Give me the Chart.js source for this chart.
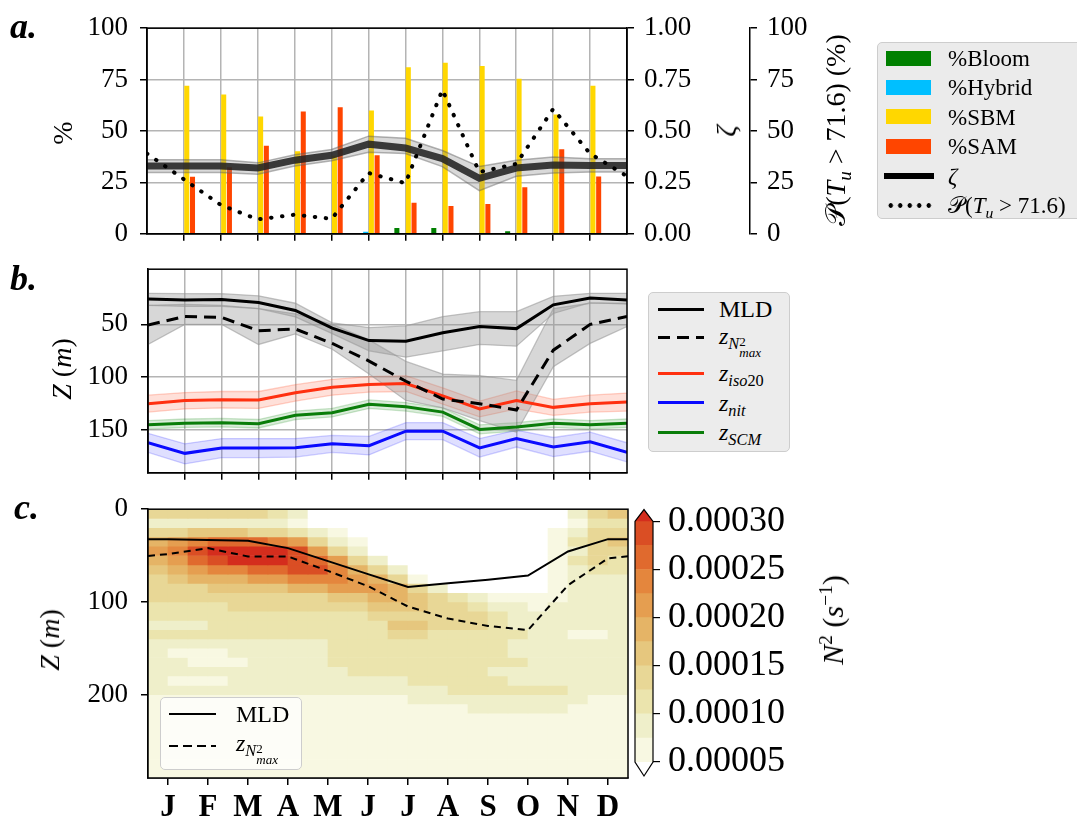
<!DOCTYPE html>
<html lang="en">
<head>
<meta charset="UTF-8">
<title>Seasonal cycle of regimes, depths and N2</title>
<script src="https://cdn.jsdelivr.net/npm/chart.js"></script>
<style>
  body { margin: 0; background: #fff; }
  #fig { position: relative; width: 1077px; height: 825px; overflow: hidden;
         font-family: 'Liberation Serif', 'DejaVu Serif', 'DejaVu Sans', serif; color: #000; }
  canvas { position: absolute; }
  .lbl { position: absolute; white-space: nowrap; line-height: 1; }
  .plab { font-weight: bold; font-style: italic; font-size: 36px; }
  .rot { transform: translate(-50%, -50%) rotate(-90deg); font-size: 28px; }
  .leg { position: absolute; border: 1.5px solid #cdcdcd; border-radius: 5px; }
  .sw { position: absolute; }
  .txt { position: absolute; white-space: nowrap; line-height: 1; transform: translateY(-50%); }
  .sb { font-size: 0.68em; position: relative; top: 0.3em; }
  .stk { display: inline-flex; flex-direction: column; font-size: 0.8em; line-height: 0.8; vertical-align: 0.2em; }
</style>
</head>
<body>
<div id="fig">
  <canvas id="chartA" width="877" height="262" style="left:0;top:0"></canvas>
  <canvas id="chartB" width="877" height="262" style="left:0;top:240px"></canvas>
  <canvas id="chartC" width="1077" height="345" style="left:0;top:480px"></canvas>
  <canvas id="chartCb" width="477" height="345" style="left:600px;top:480px"></canvas>

  <div class="lbl plab" style="left:10px;top:8px">a.</div>
  <div class="lbl plab" style="left:10px;top:260px">b.</div>
  <div class="lbl plab" style="left:14px;top:489px">c.</div>

  <div class="lbl rot" style="left:63px;top:133px">%</div>
  <div class="lbl rot" style="left:726px;top:131px"><i>ζ</i></div>
  <div class="lbl rot" style="left:836px;top:130px">𝒫(<i>T</i><span class="sb"><i>u</i></span> &gt; 71.6) (%)</div>
  <div class="lbl rot" style="left:62px;top:369px"><i>Z</i> (<i>m</i>)</div>
  <div class="lbl rot" style="left:50px;top:640px"><i>Z</i> (<i>m</i>)</div>
  <div class="lbl rot" style="left:832px;top:620px;font-size:30px"><i>N</i><sup style="font-size:0.65em">2</sup> (<i>s</i><sup style="font-size:0.65em">−1</sup>)</div>

  <!-- legend a -->
  <div class="leg" style="left:877px;top:42px;width:206px;height:175px;background:#ebebeb;font-size:23px">
    <div class="sw" style="left:8px;top:8px;width:45px;height:15px;background:#008000"></div>
    <div class="txt" style="left:70px;top:15px">%Bloom</div>
    <div class="sw" style="left:8px;top:37px;width:45px;height:15px;background:#00bfff"></div>
    <div class="txt" style="left:70px;top:44px">%Hybrid</div>
    <div class="sw" style="left:8px;top:66px;width:45px;height:15px;background:#ffd700"></div>
    <div class="txt" style="left:70px;top:74px">%SBM</div>
    <div class="sw" style="left:8px;top:96px;width:45px;height:15px;background:#ff4500"></div>
    <div class="txt" style="left:70px;top:103px">%SAM</div>
    <div class="sw" style="left:6px;top:130px;width:50px;height:6px;background:#000"></div>
    <div class="txt" style="left:70px;top:133px"><i>ζ</i></div>
    <div class="sw" style="left:8px;top:160px;width:48px;height:5px;background:radial-gradient(circle, #000 2px, transparent 2.6px) 0 0/9.5px 5px repeat-x"></div>
    <div class="txt" style="left:70px;top:162px">𝒫(<i>T</i><span class="sb"><i>u</i></span> &gt; 71.6)</div>
  </div>

  <!-- legend b -->
  <div class="leg" style="left:648px;top:292px;width:140px;height:158px;background:#ececec;font-size:24px">
    <div class="sw" style="left:9px;top:15px;width:46px;height:3px;background:#000"></div>
    <div class="txt" style="left:70px;top:16px">MLD</div>
    <div class="sw" style="left:9px;top:43px;width:46px;height:3px;background:repeating-linear-gradient(90deg,#000 0 12px,transparent 12px 19px)"></div>
    <div class="txt" style="left:70px;top:46px"><i>z</i><span class="sb"><i>N</i><span class="stk"><span>2</span><i>max</i></span></span></div>
    <div class="sw" style="left:9px;top:79px;width:46px;height:3px;background:#ff3010"></div>
    <div class="txt" style="left:70px;top:80px"><i>z</i><span class="sb"><i>iso</i>20</span></div>
    <div class="sw" style="left:9px;top:108px;width:46px;height:3px;background:#0a0aff"></div>
    <div class="txt" style="left:70px;top:110px"><i>z</i><span class="sb"><i>nit</i></span></div>
    <div class="sw" style="left:9px;top:138px;width:46px;height:3px;background:#0a7d0a"></div>
    <div class="txt" style="left:70px;top:139px"><i>z</i><span class="sb"><i>SCM</i></span></div>
  </div>

  <!-- legend c -->
  <div class="leg" style="left:160px;top:697px;width:140px;height:71px;background:rgba(255,255,255,0.75);font-size:24px">
    <div class="sw" style="left:8px;top:15px;width:47px;height:2px;background:#000"></div>
    <div class="txt" style="left:75px;top:16px">MLD</div>
    <div class="sw" style="left:8px;top:47px;width:47px;height:2px;background:repeating-linear-gradient(90deg,#000 0 9px,transparent 9px 14px)"></div>
    <div class="txt" style="left:75px;top:48px"><i>z</i><span class="sb"><i>N</i><span class="stk"><span>2</span><i>max</i></span></span></div>
  </div>
</div>

<script>
// ---------- panel a: regime percentages, zeta, P(Tu > 71.6) ----------
const monthPos = [1, 2, 3, 4, 5, 6, 7, 8, 9, 10, 11, 12];
const edgePos = [0, 1, 2, 3, 4, 5, 6, 7, 8, 9, 10, 11, 12, 13];
const pctBloom  = [0, 0, 0, 0, 0, 0, 2.8, 2.8, 0, 1.2, 0, 0];
const pctHybrid = [0, 0, 0, 0, 0, 1.0, 0, 0, 0, 0, 0, 0];
const pctSBM    = [72, 67.8, 57, 40.2, 38, 60, 81, 83.2, 81.6, 75.4, 58, 72];
const pctSAM    = [27.7, 32.4, 42.8, 59.5, 61.5, 38.2, 15.1, 13.5, 14.5, 22.7, 41.1, 27.9];
const zeta   = [0.33, 0.33, 0.33, 0.32, 0.358, 0.382, 0.436, 0.417, 0.366, 0.27, 0.32, 0.335, 0.332, 0.332];
const zetaHi = [0.36, 0.36, 0.36, 0.345, 0.385, 0.41, 0.475, 0.465, 0.405, 0.327, 0.358, 0.374, 0.365, 0.365];
const zetaLo = [0.298, 0.298, 0.298, 0.29, 0.33, 0.355, 0.397, 0.39, 0.327, 0.21, 0.28, 0.296, 0.30, 0.30];
const pTu    = [39, 26.5, 14, 7, 9.3, 7.3, 29.6, 24.6, 70, 30, 34, 60.7, 39, 28];
const pctTicks = [0, 25, 50, 75, 100];
const zetaTicks = [0, 0.25, 0.5, 0.75, 1];

// ---------- panel b: depths (m) ----------
const mld     = [25.9, 27, 26.5, 29.4, 36.8, 53.5, 65.3, 66, 58, 52, 54, 31.5, 25, 27];
const mldUp   = [20.6, 21, 21, 23, 30, 48.5, 53, 51.5, 42.6, 38, 38, 23.5, 20.6, 20.6];
const mldDn   = [32, 33, 33, 35, 43, 58.8, 75, 81, 75, 69, 70.6, 39.7, 29.4, 30.9];
const n2max   = [50.6, 42.6, 43.5, 56, 54.4, 68, 84.7, 103.8, 120.6, 125, 131, 74.4, 50, 42.6];
const n2maxUp = [32, 31, 32, 35, 40, 50, 64.7, 85, 97, 98.5, 103, 35, 30, 30];
const n2maxDn = [69, 50, 50, 69, 59, 73.5, 97, 122, 129, 141, 152, 90, 68, 52];
const iso20   = [125, 122, 121.2, 121.5, 114.7, 109.4, 106.8, 105.9, 117.6, 130, 122, 128.5, 125, 123.5];
const iso20Up = [117, 114.5, 113.5, 113.5, 107, 102, 99.5, 98.5, 110, 122.5, 113, 121, 117, 115];
const iso20Dn = [133, 130, 129, 129.5, 122.5, 117, 114, 113.5, 125.5, 137.5, 130, 136, 133, 132];
const zNit    = [161.8, 172, 167, 167, 166.8, 163, 164.7, 151, 151, 166.8, 158, 166, 161, 171];
const zNitUp  = [153, 163, 158, 158, 158, 155, 156, 143, 143, 158, 150, 157, 152, 162];
const zNitDn  = [171, 182, 176, 176, 175.5, 171, 173.5, 159, 159, 175.5, 166, 175, 170, 180];
const zScm    = [145, 143.5, 143, 144, 136, 133.5, 125.6, 128, 133, 149.4, 147, 143.5, 145, 143.5];
const zScmUp  = [141, 139.5, 139, 140, 132, 129.5, 121.5, 124, 129, 145, 143, 139.5, 141, 139.5];
const zScmDn  = [149, 147.5, 147, 148, 140, 137.5, 129.5, 132, 137, 153.5, 151, 147.5, 149, 147.5];
const depthTicksB = [50, 100, 150];

// ---------- panel c: N2 section (units of 1e-5 s^-1) ----------
const months = ['J', 'F', 'M', 'A', 'M', 'J', 'J', 'A', 'S', 'O', 'N', 'D'];
const monthIdx = [0, 1, 2, 3, 4, 5, 6, 7, 8, 9, 10, 11];
const lineX = [-0.5, 0, 1, 2, 3, 4, 5, 6, 7, 8, 9, 10, 11, 11.5];
const mldC   = [32.3, 32.3, 33.3, 34, 42, 56, 70, 84, 80, 76, 71.6, 45.6, 32.3, 32.3];
const n2maxC = [50.5, 48.4, 42, 51, 51, 66.6, 83, 105, 118, 126, 130.5, 82, 53, 50.8];
const depthTicksC = [0, 100, 200];
const n2Cols = [-0.25, 0.25, 0.75, 1.25, 1.75, 2.25, 2.75, 3.25, 3.75, 4.25, 4.75, 5.25,
                5.75, 6.25, 6.75, 7.25, 7.75, 8.25, 8.75, 9.25, 9.75, 10.25, 10.75, 11.25];
const n2Depth = [0, 10, 20, 30, 40, 50, 60, 70, 80, 90, 100, 110, 120, 130, 140, 150,
                 160, 170, 180, 190, 200, 210, 220, 230, 240, 250, 260, 270, 280, 290];
const n2Grid = [
  [14,14,14,14,14,14,11, 9, 4, 4, 4, 4, 4, 4, 4, 4, 4, 4, 4, 4, 4, 9,14,16],
  [ 9, 9, 9, 9, 9, 9, 9, 6, 4, 4, 4, 4, 4, 4, 4, 4, 4, 4, 4, 4, 4, 6,11,11],
  [14,14,16,16,16,14,14,11, 9, 6, 4, 4, 4, 4, 4, 4, 4, 4, 4, 4, 6, 9,14,14],
  [19,21,24,26,26,26,24,21,14, 9, 6, 4, 4, 4, 4, 4, 4, 4, 4, 4, 6,11,14,16],
  [21,24,29,31,31,31,31,29,21,14, 9, 4, 4, 4, 4, 4, 4, 4, 4, 4, 6, 9,14,14],
  [19,21,26,29,31,31,31,29,26,21,14, 9, 4, 4, 4, 4, 4, 4, 4, 4, 6,11,14,11],
  [16,19,21,24,24,26,26,29,29,24,19,14, 9, 4, 4, 4, 4, 4, 4, 4, 6, 9,11,11],
  [14,16,19,19,19,21,21,24,24,24,21,19,14, 6, 4, 4, 4, 4, 4, 4, 6, 9, 9, 9],
  [14,14,14,16,16,16,16,19,19,21,21,21,19,14, 9, 4, 4, 4, 4, 4, 6, 9, 9, 9],
  [14,14,14,14,14,14,14,14,14,16,16,19,19,16,14,11, 9, 6, 6, 6, 6, 9, 9, 9],
  [11,11,11,11,14,14,14,14,14,14,14,16,16,16,14,14,11, 9, 9, 6, 9, 9, 9, 9],
  [11,11,11,11,11,11,11,11,11,11,11,14,14,14,14,14,14,11, 9, 9, 9, 9, 9, 9],
  [ 9, 9, 9,11,11,11,11,11,11,11,11,11,16,16,14,14,14,11, 9, 9, 9, 9, 9, 9],
  [11,11,11,11,11,11,11,11,11,11,11,11,14,14,11,11,11,11,11, 9, 9, 6, 6, 9],
  [ 9, 9, 9, 9, 9, 9, 9, 9, 9,11,11,11,11,11,11,11,11,11, 9, 9, 9, 9, 9, 9],
  [ 9, 6, 6, 6, 9, 9, 9, 9, 9,11,11,11,11,11,11,11,11,11, 9, 9, 9, 9, 9, 9],
  [ 9, 9, 6, 6, 6, 9, 9, 9, 9,11,11,11,11,11,11,11,11,11,11, 9, 9, 9, 9, 9],
  [ 9, 9, 9, 9, 9, 9, 9, 9, 9, 9,11,11,11,11,11,11,11, 9, 9, 9, 9, 9, 9, 9],
  [ 9, 6, 6, 6, 9, 9, 9, 9, 9, 9, 9, 9, 9,11,11,11,11,11, 9, 9, 9, 9, 9, 9],
  [ 9, 9, 9, 9, 9, 9, 9, 9, 9, 9, 9, 9, 9, 9, 9,11,11,11,11,11,11, 9, 9, 9],
  [ 6, 6, 6, 6, 6, 6, 6, 6, 6, 6, 6, 6, 6, 9, 9, 9, 9, 9, 9, 9, 9, 9, 6, 6],
  [ 6, 6, 6, 6, 6, 6, 6, 6, 6, 6, 6, 6, 6, 6, 6, 6, 9, 9, 9, 9, 9, 6, 6, 6],
  [ 6, 6, 6, 6, 6, 6, 6, 6, 6, 6, 6, 6, 6, 6, 6, 6, 6, 6, 6, 6, 6, 6, 6, 6],
  [ 6, 6, 6, 6, 6, 6, 6, 6, 6, 6, 6, 6, 6, 6, 6, 6, 6, 6, 6, 6, 6, 6, 6, 6],
  [ 6, 6, 6, 6, 6, 6, 6, 6, 6, 6, 6, 6, 6, 6, 6, 6, 6, 6, 6, 6, 6, 6, 6, 6],
  [ 6, 6, 6, 6, 6, 6, 6, 6, 6, 6, 6, 6, 6, 6, 6, 6, 6, 6, 6, 6, 6, 6, 6, 6],
  [ 6, 6, 6, 6, 6, 6, 6, 6, 6, 6, 6, 6, 6, 6, 6, 6, 6, 6, 6, 6, 6, 6, 6, 6],
  [ 6, 6, 6, 6, 6, 6, 6, 6, 6, 6, 6, 6, 6, 6, 6, 6, 6, 6, 6, 6, 6, 6, 6, 6],
  [ 6, 6, 6, 6, 6, 6, 6, 6, 6, 6, 6, 6, 6, 6, 6, 6, 6, 6, 6, 6, 6, 6, 6, 6]
];
const n2Levels = [5, 7.5, 10, 12.5, 15, 17.5, 20, 22.5, 25, 27.5, 30];
const n2Colors = ['#ffffff', '#f8f8e2', '#efefca', '#ebe4ad', '#e8d796', '#e6c77e',
                  '#e5b466', '#e59e50', '#e4863d', '#e06a2e', '#da4e24', '#d42d1d'];
const cbTicks = [5, 10, 15, 20, 25, 30];

// ---------- shared setup ----------
Chart.defaults.font.family = "'Liberation Serif', 'DejaVu Serif', serif";
Chart.defaults.font.size = 27;
Chart.defaults.color = '#000';
Chart.defaults.animation = false;
Chart.defaults.responsive = false;
Chart.defaults.plugins.legend.display = false;
Chart.defaults.plugins.tooltip.enabled = false;

const GRID = '#b4b4b4';
const fixW = w => s => { s.width = w; };
const fixH = h => s => { s.height = h; };
const setTicks = vals => s => { s.ticks = vals.map(v => ({ value: v })); };
const pts = (xs, ys) => xs.map((x, i) => ({ x: x, y: ys[i] }));

const framePlugin = {
  id: 'frame',
  afterDatasetsDraw(chart) {
    const { ctx, chartArea: a } = chart;
    ctx.save();
    ctx.strokeStyle = '#000';
    ctx.lineWidth = 1.5;
    ctx.strokeRect(a.left, a.top, a.right - a.left, a.bottom - a.top);
    ctx.restore();
  }
};

function n2Color(v) {
  let k = 0;
  while (k < n2Levels.length && v >= n2Levels[k]) k++;
  return n2Colors[k];
}

function line(xs, ys, color, width, extra) {
  return Object.assign({ type: 'line', data: pts(xs, ys), borderColor: color, borderWidth: width,
                         pointRadius: 0, fill: false, order: 0 }, extra || {});
}

// band = upper edge filled down to the next dataset (lower edge)
function band(up, dn, fillColor, edgeColor) {
  return [
    line(edgePos, up, edgeColor, 1.3, { fill: '+1', backgroundColor: fillColor, order: 1 }),
    line(edgePos, dn, edgeColor, 1.3, { order: 1 })
  ];
}

// ---------- chart a ----------
const barOpts = { barPercentage: 0.88, categoryPercentage: 0.62, yAxisID: 'y', order: 3 };
new Chart(document.getElementById('chartA'), {
  type: 'bar',
  data: {
    datasets: [
      line(edgePos, pTu, '#000', 4, { yAxisID: 'yP', borderDash: [0.5, 10.5], borderCapStyle: 'round', order: 0 }),
      line(edgePos, zeta, 'rgba(35,35,35,0.88)', 7, { yAxisID: 'yZ', order: 1 }),
      line(edgePos, zetaHi, 'rgba(90,90,90,0.45)', 1.5, { yAxisID: 'yZ', fill: '+1', backgroundColor: 'rgba(130,130,130,0.3)', order: 2 }),
      line(edgePos, zetaLo, 'rgba(90,90,90,0.45)', 1.5, { yAxisID: 'yZ', order: 2 }),
      Object.assign({ label: '%Bloom', data: pts(monthPos, pctBloom), backgroundColor: '#008000' }, barOpts),
      Object.assign({ label: '%Hybrid', data: pts(monthPos, pctHybrid), backgroundColor: '#00bfff' }, barOpts),
      Object.assign({ label: '%SBM', data: pts(monthPos, pctSBM), backgroundColor: '#ffd700' }, barOpts),
      Object.assign({ label: '%SAM', data: pts(monthPos, pctSAM), backgroundColor: '#ff4500' }, barOpts)
    ]
  },
  options: {
    layout: { padding: { top: 25, left: 0, right: 0, bottom: 0 } },
    scales: {
      x: { type: 'linear', min: 0, max: 13, offset: false, afterBuildTicks: setTicks(monthPos), afterFit: fixH(22),
           ticks: { display: false },
           grid: { offset: false, color: GRID, lineWidth: 1.5, tickColor: '#000', tickLength: 7 },
           border: { color: '#000', width: 1.5 } },
      y: { min: 0, max: 100, afterBuildTicks: setTicks(pctTicks), afterFit: fixW(147),
           ticks: { padding: 12 },
           grid: { color: GRID, lineWidth: 1.5, tickColor: '#000', tickLength: 7 },
           border: { color: '#000', width: 1.5 } },
      yZ: { position: 'right', min: 0, max: 1, afterBuildTicks: setTicks(zetaTicks), afterFit: fixW(123),
            ticks: { padding: 10, callback: v => v.toFixed(2) },
            grid: { drawOnChartArea: false, tickColor: '#000', tickLength: 7, lineWidth: 1.5 },
            border: { color: '#000', width: 1.5 } },
      yP: { position: 'right', min: 0, max: 100, afterBuildTicks: setTicks(pctTicks), afterFit: fixW(127),
            ticks: { padding: 10 },
            grid: { drawOnChartArea: false, tickColor: '#000', tickLength: 7, lineWidth: 1.5 },
            border: { color: '#000', width: 1.5 } }
    }
  },
  plugins: [framePlugin]
});

// ---------- chart b ----------
new Chart(document.getElementById('chartB'), {
  type: 'line',
  data: {
    datasets: [
      line(edgePos, mld, '#000', 3),
      line(edgePos, n2max, '#000', 3, { borderDash: [12, 7] }),
      line(edgePos, iso20, '#ff3010', 3),
      line(edgePos, zNit, '#0a0aff', 3),
      line(edgePos, zScm, '#0a7d0a', 3),
      ...band(mldUp, mldDn, 'rgba(150,150,150,0.38)', 'rgba(150,150,150,0.55)'),
      ...band(n2maxUp, n2maxDn, 'rgba(150,150,150,0.38)', 'rgba(150,150,150,0.55)'),
      ...band(iso20Up, iso20Dn, 'rgba(255,70,30,0.17)', 'rgba(255,70,30,0.25)'),
      ...band(zNitUp, zNitDn, 'rgba(40,40,255,0.15)', 'rgba(40,40,255,0.22)'),
      ...band(zScmUp, zScmDn, 'rgba(0,128,0,0.14)', 'rgba(0,128,0,0.2)')
    ]
  },
  options: {
    layout: { padding: { top: 23, left: 0, right: 250, bottom: 0 } },
    scales: {
      x: { type: 'linear', min: 0, max: 13, afterBuildTicks: setTicks(monthPos), afterFit: fixH(22),
           ticks: { display: false },
           grid: { color: GRID, lineWidth: 1.5, tickColor: '#000', tickLength: 7 },
           border: { color: '#000', width: 1.5 } },
      y: { reverse: true, min: -2.2, max: 190.4, afterBuildTicks: setTicks(depthTicksB), afterFit: fixW(148),
           ticks: { padding: 13 },
           grid: { color: GRID, lineWidth: 1.5, tickColor: '#000', tickLength: 7 },
           border: { color: '#000', width: 1.5 } }
    }
  },
  plugins: [framePlugin]
});

// ---------- chart c (N2 section) ----------
const heatSets = n2Grid.map((row, r) => ({
  type: 'bar',
  data: n2Cols.map(x => ({ x: x, y: [n2Depth[r], n2Depth[r + 1]] })),
  backgroundColor: row.map(n2Color),
  barPercentage: 1, categoryPercentage: 1, grouped: false, order: 2
}));
new Chart(document.getElementById('chartC'), {
  type: 'bar',
  data: {
    datasets: [
      line(lineX, mldC, '#000', 2),
      line(lineX, n2maxC, '#000', 2, { borderDash: [7, 5] }),
      ...heatSets
    ]
  },
  options: {
    layout: { padding: { top: 23, left: 0, right: 449, bottom: 0 } },
    scales: {
      x: { type: 'linear', min: -0.5, max: 11.5, offset: false, afterBuildTicks: setTicks(monthIdx), afterFit: fixH(47),
           ticks: { autoSkip: false, maxRotation: 0, padding: 4, font: { size: 31, weight: 'bold' },
                    callback: (v, i) => months[i] },
           grid: { offset: false, drawOnChartArea: false, tickColor: '#000', tickLength: 7, lineWidth: 1.5 },
           border: { color: '#000', width: 1.5 } },
      y: { reverse: true, min: 0, max: 290, afterBuildTicks: setTicks(depthTicksC), afterFit: fixW(148),
           ticks: { padding: 13 },
           grid: { drawOnChartArea: false, tickColor: '#000', tickLength: 7, lineWidth: 1.5 },
           border: { color: '#000', width: 1.5 } }
    }
  },
  plugins: [framePlugin]
});

// ---------- colorbar ----------
const cbExtend = {
  id: 'cbExtend',
  afterDatasetsDraw(chart) {
    const { ctx, chartArea: a, scales: { y } } = chart;
    const yTop = y.getPixelForValue(n2Levels[n2Levels.length - 1]);
    const yBot = y.getPixelForValue(n2Levels[0]);
    const yMax = y.getPixelForValue(y.max);
    const yMin = y.getPixelForValue(y.min);
    const xm = (a.left + a.right) / 2;
    ctx.save();
    ctx.fillStyle = n2Colors[n2Colors.length - 1];
    ctx.beginPath(); ctx.moveTo(a.left, yTop); ctx.lineTo(xm, yMax); ctx.lineTo(a.right, yTop); ctx.closePath(); ctx.fill();
    ctx.fillStyle = n2Colors[0];
    ctx.beginPath(); ctx.moveTo(a.left, yBot); ctx.lineTo(xm, yMin); ctx.lineTo(a.right, yBot); ctx.closePath(); ctx.fill();
    ctx.strokeStyle = '#000';
    ctx.lineWidth = 1.2;
    ctx.beginPath();
    ctx.moveTo(a.left, yTop); ctx.lineTo(xm, yMax); ctx.lineTo(a.right, yTop);
    ctx.lineTo(a.right, yBot); ctx.lineTo(xm, yMin); ctx.lineTo(a.left, yBot);
    ctx.closePath(); ctx.stroke();
    ctx.restore();
  }
};
new Chart(document.getElementById('chartCb'), {
  type: 'bar',
  data: {
    labels: ['N2'],
    datasets: n2Levels.slice(0, -1).map((lo, k) => ({
      data: [[lo, n2Levels[k + 1]]],
      backgroundColor: n2Colors[k + 1],
      barPercentage: 1, categoryPercentage: 1, grouped: false
    }))
  },
  options: {
    layout: { padding: { top: 23, left: 35, right: 0, bottom: 49 } },
    scales: {
      x: { display: false },
      y: { position: 'right', min: 3.55, max: 31.22, afterBuildTicks: setTicks(cbTicks), afterFit: fixW(424),
           ticks: { padding: 8, font: { size: 36 }, callback: v => (v * 1e-5).toFixed(5) },
           grid: { drawOnChartArea: false, tickColor: '#000', tickLength: 7, lineWidth: 1.2 },
           border: { display: false } }
    }
  },
  plugins: [cbExtend]
});
</script>
</body>
</html>
